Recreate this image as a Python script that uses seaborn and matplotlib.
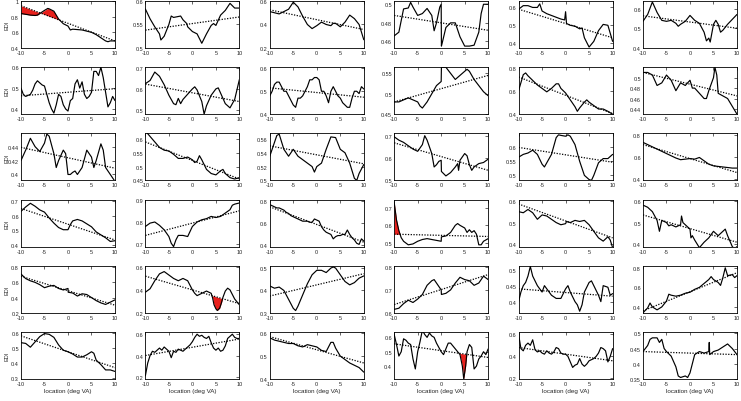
import numpy as np
import matplotlib
matplotlib.use("Agg")
import matplotlib.pyplot as plt
import seaborn as sns

# sample positions used by the noisier traces
half = np.arange(-10, 10.5, 0.5)

# ---- row 1 ----
p11_x = [-10, -9, -8, -7, -6.5, -6, -5, -4.3, -4, -3, -2, -1, 0, 0.5, 1, 2, 3, 4, 5, 6, 7, 8, 8.5, 9, 10]
p11_y = [0.84, 0.83, 0.82, 0.815, 0.82, 0.84, 0.88, 0.905, 0.90, 0.87, 0.77, 0.71, 0.68, 0.63, 0.64, 0.635, 0.63, 0.615, 0.60, 0.57, 0.53, 0.49, 0.48, 0.49, 0.49]
p12_x = [-10, -9, -8, -7, -6.7, -6, -5, -4.5, -4, -3, -2.5, -2, -1.2, -1, 0, 1, 2, 3, 4, 4.5, 5, 6, 7, 8, 9, 10]
p12_y = [0.583, 0.562, 0.545, 0.53, 0.517, 0.525, 0.55, 0.568, 0.565, 0.567, 0.568, 0.56, 0.552, 0.545, 0.535, 0.53, 0.510, 0.53, 0.548, 0.552, 0.548, 0.57, 0.58, 0.595, 0.585, 0.585]
p13_x = [-10, -9, -8, -7, -6, -5, -4, -3, -2, -1, 0, 1, 2, 3, 3.5, 4, 5, 5.5, 6, 7, 8, 9, 10]
p13_y = [0.51, 0.50, 0.49, 0.51, 0.53, 0.59, 0.55, 0.47, 0.40, 0.365, 0.39, 0.42, 0.40, 0.39, 0.41, 0.41, 0.38, 0.40, 0.42, 0.48, 0.45, 0.40, 0.27]
p14_x = [-10, -9, -8, -7, -6.5, -6, -5, -4, -3, -2, -1.5, -1, -0.3, 0, 0.05, 0.2, 1, 2, 3, 4, 5, 6, 7, 8, 8.5, 9, 10]
p14_y = [0.466, 0.47, 0.495, 0.496, 0.502, 0.497, 0.488, 0.49, 0.4955, 0.488, 0.4715, 0.48, 0.497, 0.5, 0.455, 0.458, 0.475, 0.48, 0.48, 0.465, 0.455, 0.455, 0.456, 0.47, 0.49, 0.50, 0.50]
p15_x = [-10, -9, -8, -7, -6, -5.5, -5, -4, -3, -2, -1, -0.2, 0, 0.2, 1, 2, 3, 3.5, 4, 5, 6, 7, 8, 9, 10]
p15_y = [0.59, 0.61, 0.61, 0.60, 0.60, 0.62, 0.58, 0.565, 0.555, 0.545, 0.535, 0.53, 0.576, 0.51, 0.50, 0.495, 0.48, 0.485, 0.43, 0.378, 0.41, 0.47, 0.505, 0.50, 0.41]
p16_x = [-10, -9, -8, -7, -6, -5, -4, -3, -2.5, -2, -1, 0, 1, 2, 3, 3.5, 4, 4.3, 5, 5.5, 6, 6.5, 7, 8, 9, 10]
p16_y = [0.535, 0.57, 0.633, 0.58, 0.54, 0.535, 0.54, 0.525, 0.51, 0.52, 0.535, 0.565, 0.54, 0.525, 0.48, 0.436, 0.45, 0.43, 0.52, 0.54, 0.52, 0.48, 0.49, 0.52, 0.545, 0.57]

# ---- row 2 ----
p21_x = half
p21_y = [0.50, 0.47, 0.46, 0.465, 0.47, 0.49, 0.52, 0.535, 0.525, 0.515,
         0.51, 0.47, 0.43, 0.40, 0.38, 0.42, 0.47, 0.46, 0.42, 0.40,
         0.39, 0.44, 0.45, 0.52, 0.54, 0.50, 0.53, 0.47, 0.45, 0.46,
         0.48, 0.58, 0.58, 0.56, 0.60, 0.55, 0.48, 0.41, 0.43, 0.46, 0.44]
p22_x = [-10, -9, -8, -7, -6, -5, -4, -3.5, -3, -2.5, -2, -1, 0, 0.5, 1, 2, 2.5, 3, 4, 5, 5.5, 6, 7, 8, 9, 10]
p22_y = [0.625, 0.64, 0.68, 0.66, 0.62, 0.57, 0.53, 0.525, 0.555, 0.53, 0.55, 0.575, 0.60, 0.61, 0.595, 0.54, 0.48, 0.52, 0.57, 0.60, 0.605, 0.58, 0.53, 0.51, 0.55, 0.645]
p23_x = half
p23_y = [0.48, 0.50, 0.53, 0.54, 0.54, 0.52, 0.50, 0.50, 0.48, 0.46,
         0.44, 0.43, 0.47, 0.47, 0.48, 0.50, 0.52, 0.55, 0.55, 0.56,
         0.56, 0.55, 0.50, 0.50, 0.48, 0.45, 0.50, 0.52, 0.50, 0.48,
         0.47, 0.45, 0.44, 0.43, 0.43, 0.47, 0.50, 0.50, 0.49, 0.52, 0.51]
p24_x = [-10, -9, -8, -7, -6, -5, -4.5, -4, -3, -2, -1, 0, 0.05, 1, 2, 3, 4, 5, 5.5, 6, 7, 8, 9, 10]
p24_y = [0.48, 0.48, 0.485, 0.49, 0.485, 0.48, 0.47, 0.465, 0.48, 0.50, 0.52, 0.53, 0.565, 0.565, 0.55, 0.535, 0.545, 0.555, 0.56, 0.555, 0.535, 0.52, 0.505, 0.495]
p25_x = [-10, -9.5, -9, -8.5, -8, -7, -6, -5, -4, -3, -2, -1.5, -1, 0, 1, 2, 2.5, 3, 4, 4.5, 5, 6, 7, 8, 9, 10]
p25_y = [0.60, 0.67, 0.74, 0.755, 0.73, 0.69, 0.65, 0.62, 0.59, 0.62, 0.66, 0.66, 0.62, 0.58, 0.52, 0.46, 0.42, 0.45, 0.50, 0.52, 0.50, 0.47, 0.44, 0.44, 0.42, 0.395]
p26_x = [-10, -9, -8, -7, -6, -5, -4, -3, -2, -1, 0, 0.5, 1, 2, 3, 3.5, 4, 5, 5.3, 5.7, 6, 7, 8, 9, 10]
p26_y = [0.51, 0.51, 0.505, 0.485, 0.49, 0.505, 0.495, 0.475, 0.49, 0.485, 0.495, 0.48, 0.48, 0.47, 0.46, 0.46, 0.475, 0.50, 0.52, 0.505, 0.47, 0.465, 0.46, 0.445, 0.43]

# ---- row 3 ----
p31_x = [-10, -9, -8, -7, -6, -5, -4.5, -4, -3, -2.5, -2, -1, -0.5, 0, 0.5, 1, 1.5, 2, 3, 4, 5, 5.5, 6, 7, 7.5, 8, 9, 10]
p31_y = [0.42, 0.435, 0.452, 0.44, 0.433, 0.445, 0.458, 0.455, 0.43, 0.41, 0.42, 0.435, 0.43, 0.40, 0.40, 0.403, 0.405, 0.40, 0.41, 0.435, 0.425, 0.41, 0.42, 0.444, 0.435, 0.41, 0.40, 0.39]
p32_x = [-10, -9, -8, -7, -6, -5, -4, -3, -2, -1, 0, 0.5, 1, 1.5, 2, 3, 4, 5, 6, 6.5, 7, 8, 9, 10]
p32_y = [0.63, 0.61, 0.59, 0.57, 0.56, 0.557, 0.545, 0.53, 0.53, 0.535, 0.525, 0.515, 0.52, 0.54, 0.525, 0.49, 0.475, 0.47, 0.485, 0.49, 0.475, 0.46, 0.455, 0.46]
p33_x = [-10, -9, -8.5, -8, -7, -6, -5, -4, -3, -2, -1, -0.5, 0, 1, 2, 3, 4, 5, 6, 7, 8, 8.5, 9, 10]
p33_y = [0.535, 0.555, 0.565, 0.567, 0.545, 0.535, 0.545, 0.535, 0.53, 0.525, 0.52, 0.512, 0.52, 0.525, 0.545, 0.563, 0.562, 0.545, 0.54, 0.525, 0.503, 0.50, 0.51, 0.523]
p34_x = [-10, -9, -8, -7, -6, -5, -4, -3.5, -3, -2, -1.5, -1, -0.5, 0, 0.05, 1, 2, 3, 3.5, 3.7, 4, 5, 5.5, 6, 6.5, 7, 8, 9, 10]
p34_y = [0.695, 0.68, 0.67, 0.655, 0.64, 0.63, 0.66, 0.70, 0.68, 0.62, 0.56, 0.57, 0.585, 0.59, 0.54, 0.52, 0.535, 0.56, 0.575, 0.545, 0.59, 0.62, 0.61, 0.57, 0.545, 0.56, 0.575, 0.58, 0.595]
p35_x = [-10, -9, -8, -7, -6, -5, -4.5, -4, -3, -2, -1.5, -1, 0, 0.5, 1, 2, 3, 4, 5, 5.5, 6, 7, 8, 9, 10]
p35_y = [0.565, 0.575, 0.58, 0.59, 0.575, 0.54, 0.53, 0.545, 0.575, 0.635, 0.645, 0.643, 0.64, 0.645, 0.64, 0.61, 0.55, 0.50, 0.485, 0.482, 0.50, 0.545, 0.56, 0.56, 0.575]
p36_x = [-10, -9, -8, -7, -6, -5, -4, -3, -2, -1, 0, 1, 2, 3, 4, 5, 6, 7, 8, 9, 10]
p36_y = [0.73, 0.71, 0.69, 0.67, 0.65, 0.63, 0.61, 0.59, 0.575, 0.58, 0.585, 0.58, 0.595, 0.565, 0.535, 0.52, 0.515, 0.51, 0.505, 0.50, 0.50]

# ---- row 4 ----
p41_x = [-10, -9, -8, -7, -6, -5, -4, -3, -2, -1, 0, 0.5, 1, 2, 3, 4, 5, 6, 7, 8, 9, 10]
p41_y = [0.63, 0.66, 0.685, 0.665, 0.64, 0.625, 0.585, 0.55, 0.52, 0.505, 0.505, 0.54, 0.565, 0.575, 0.565, 0.545, 0.525, 0.49, 0.47, 0.45, 0.425, 0.43]
p42_x = [-10, -9, -8, -7, -6, -5, -4.5, -4, -3.5, -3, -2, -1, 0, 1, 2, 3, 4, 5, 6, 7, 8, 8.5, 9, 10]
p42_y = [0.78, 0.795, 0.80, 0.785, 0.765, 0.735, 0.705, 0.69, 0.72, 0.74, 0.74, 0.735, 0.78, 0.80, 0.81, 0.815, 0.825, 0.82, 0.825, 0.84, 0.855, 0.875, 0.88, 0.885]
p43_x = half
p43_y = [0.77, 0.76, 0.75, 0.74, 0.74, 0.73, 0.72, 0.70, 0.69, 0.67,
         0.66, 0.65, 0.64, 0.63, 0.62, 0.62, 0.62, 0.61, 0.61, 0.64,
         0.63, 0.62, 0.57, 0.54, 0.52, 0.51, 0.50, 0.46, 0.48, 0.49,
         0.49, 0.50, 0.50, 0.54, 0.50, 0.47, 0.45, 0.42, 0.41, 0.46, 0.44]
p44_x = [-10, -9.5, -9, -8.5, -8, -7, -6, -5, -4, -3, -2, -1, 0, 0.05, 1, 2, 3, 3.5, 4, 5, 5.5, 6, 6.5, 7, 7.5, 8, 8.5, 9, 10]
p44_y = [0.73, 0.63, 0.57, 0.53, 0.51, 0.49, 0.495, 0.51, 0.52, 0.525, 0.52, 0.515, 0.51, 0.535, 0.54, 0.56, 0.60, 0.61, 0.60, 0.585, 0.56, 0.575, 0.56, 0.57, 0.55, 0.49, 0.49, 0.51, 0.525]
p45_x = [-10, -9, -8, -7, -6, -5, -4, -3, -2, -1, 0, 0.2, 1, 2, 3, 4, 5, 6, 7, 8, 9, 9.5, 10]
p45_y = [0.55, 0.545, 0.56, 0.545, 0.515, 0.535, 0.53, 0.515, 0.50, 0.49, 0.495, 0.505, 0.50, 0.51, 0.505, 0.51, 0.49, 0.46, 0.43, 0.415, 0.435, 0.42, 0.385]
p46_x = [-10, -9, -8, -7, -6.5, -6, -5, -4.5, -4, -3, -2, -1.8, -1.5, -1, 0, 0.2, 0.5, 1, 2, 3, 4, 5, 6, 7, 7.5, 8, 9, 9.5, 10]
p46_y = [0.58, 0.57, 0.55, 0.51, 0.46, 0.51, 0.50, 0.485, 0.49, 0.48, 0.49, 0.53, 0.50, 0.49, 0.47, 0.43, 0.44, 0.42, 0.385, 0.41, 0.43, 0.46, 0.44, 0.46, 0.47, 0.44, 0.39, 0.38, 0.39]

# ---- row 5 ----
p51_x = [-10, -9, -8, -7, -6, -5, -4, -3, -2, -1, 0, 0.05, 1, 2, 3, 4, 5, 6, 7, 8, 9, 10]
p51_y = [0.71, 0.65, 0.62, 0.60, 0.57, 0.53, 0.55, 0.56, 0.52, 0.50, 0.52, 0.47, 0.46, 0.42, 0.45, 0.44, 0.40, 0.36, 0.33, 0.31, 0.34, 0.37]
p52_x = [-10, -9, -8, -7, -6, -5, -4, -3, -2, -1, -0.5, 0, 0.5, 1, 2, 3, 4, 4.3, 4.6, 5, 5.3, 5.8, 6.2, 6.5, 7, 7.5, 8, 9, 10]
p52_y = [0.38, 0.41, 0.48, 0.54, 0.56, 0.53, 0.50, 0.48, 0.50, 0.48, 0.44, 0.40, 0.37, 0.35, 0.37, 0.39, 0.37, 0.33, 0.27, 0.235, 0.22, 0.24, 0.29, 0.335, 0.39, 0.415, 0.40, 0.32, 0.27]
p53_x = [-10, -9, -8, -7, -6, -5, -4.5, -4, -3, -2, -1, 0, 1, 2, 3, 3.5, 4, 5, 6, 7, 8, 9, 10]
p53_y = [0.42, 0.41, 0.415, 0.40, 0.36, 0.32, 0.31, 0.33, 0.38, 0.43, 0.47, 0.49, 0.49, 0.48, 0.50, 0.505, 0.50, 0.47, 0.44, 0.425, 0.435, 0.455, 0.465]
p54_x = [-10, -9, -8, -7, -6, -5, -4, -3, -2, -1.5, -1, 0, 0.05, 1, 2, 3, 4, 5, 6, 7, 8, 9, 10]
p54_y = [0.615, 0.62, 0.64, 0.655, 0.645, 0.66, 0.68, 0.72, 0.74, 0.745, 0.73, 0.70, 0.68, 0.685, 0.70, 0.73, 0.755, 0.745, 0.74, 0.72, 0.73, 0.76, 0.745]
p55_x = [-10, -9.5, -9, -8.5, -8, -7.5, -7, -6, -5, -4.5, -4, -3, -2, -1, 0, 0.5, 1, 2, 2.5, 3, 3.5, 4, 5, 5.5, 6, 7, 7.5, 8, 9, 9.5, 10]
p55_y = [0.40, 0.43, 0.45, 0.46, 0.48, 0.51, 0.48, 0.45, 0.43, 0.45, 0.44, 0.42, 0.41, 0.41, 0.44, 0.45, 0.43, 0.40, 0.39, 0.37, 0.39, 0.43, 0.46, 0.465, 0.45, 0.42, 0.40, 0.45, 0.445, 0.42, 0.425]
p56_x = [-10, -9, -8.5, -8, -7, -6, -5, -4.5, -4, -3, -2, -1, 0, 1, 2, 3, 4, 4.5, 5, 6, 6.5, 7, 7.5, 8, 9, 9.5, 10]
p56_y = [0.34, 0.39, 0.44, 0.40, 0.37, 0.40, 0.46, 0.53, 0.52, 0.51, 0.52, 0.54, 0.55, 0.58, 0.60, 0.64, 0.68, 0.71, 0.68, 0.65, 0.62, 0.70, 0.80, 0.72, 0.73, 0.70, 0.72]

# ---- row 6 ----
p61_x = [-10, -9, -8, -7, -6, -5, -4, -3, -2, -1, 0, 1, 2, 3, 4, 5, 5.5, 6, 7, 8, 9, 10]
p61_y = [0.535, 0.53, 0.505, 0.54, 0.575, 0.595, 0.59, 0.57, 0.52, 0.485, 0.475, 0.46, 0.44, 0.44, 0.455, 0.475, 0.465, 0.42, 0.39, 0.355, 0.355, 0.345]
p62_x = half
p62_y = [0.21, 0.33, 0.40, 0.44, 0.43, 0.45, 0.47, 0.45, 0.48, 0.46,
         0.44, 0.38, 0.44, 0.43, 0.46, 0.45, 0.44, 0.46, 0.48, 0.50,
         0.53, 0.57, 0.60, 0.58, 0.59, 0.57, 0.56, 0.58, 0.52, 0.47,
         0.45, 0.47, 0.44, 0.45, 0.49, 0.56, 0.58, 0.60, 0.57, 0.56, 0.56]
p63_x = [-10, -9, -8, -7, -6, -5, -4, -3, -2, -1, 0, 1, 2, 3, 3.5, 4, 5, 6, 7, 8, 9, 10]
p63_y = [0.58, 0.57, 0.565, 0.56, 0.555, 0.555, 0.545, 0.54, 0.55, 0.545, 0.54, 0.525, 0.52, 0.56, 0.56, 0.535, 0.50, 0.485, 0.47, 0.46, 0.45, 0.43]
p64_x = [-10, -9.5, -9, -8.5, -8, -7.5, -7, -6.5, -6, -5.5, -5, -4.5, -4, -3.5, -3, -2.5, -2, -1.5, -1, -0.5,
         0, 0.5, 1, 1.5, 2, 2.5, 3, 3.5, 4, 4.5, 4.8, 5.2, 5.5, 6, 6.5, 7, 7.5, 8, 8.5, 9, 9.5, 10]
p64_y = [0.62, 0.55, 0.47, 0.50, 0.59, 0.58, 0.56, 0.55, 0.45, 0.38, 0.50, 0.57, 0.65, 0.62, 0.60, 0.63, 0.61, 0.60, 0.56, 0.53,
         0.50, 0.48, 0.52, 0.56, 0.56, 0.54, 0.52, 0.50, 0.48, 0.40, 0.31, 0.40, 0.50, 0.55, 0.53, 0.38, 0.40, 0.45, 0.47, 0.50, 0.48, 0.52]
p65_x = half
p65_y = [0.60, 0.47, 0.45, 0.50, 0.52, 0.50, 0.55, 0.46, 0.44, 0.45,
         0.43, 0.42, 0.45, 0.43, 0.42, 0.44, 0.48, 0.47, 0.43, 0.42,
         0.42, 0.40, 0.35, 0.30, 0.32, 0.33, 0.38, 0.33, 0.31, 0.33,
         0.36, 0.37, 0.38, 0.40, 0.43, 0.48, 0.47, 0.45, 0.35, 0.40, 0.47]
p66_x = [-10, -9, -8.5, -8, -7, -6.5, -6, -5.5, -5, -4, -3, -2.5, -2, -1, -0.5, 0, 0.5, 1, 2, 3, 4, 4.1, 4.2, 5, 6, 7, 8, 9, 10]
p66_y = [0.44, 0.46, 0.48, 0.485, 0.485, 0.47, 0.48, 0.45, 0.44, 0.425, 0.39, 0.36, 0.355, 0.36, 0.355, 0.37, 0.40, 0.43, 0.44, 0.435, 0.44, 0.47, 0.43, 0.44, 0.445, 0.455, 0.465, 0.45, 0.43]

curves_x = [p11_x, p12_x, p13_x, p14_x, p15_x, p16_x,
            p21_x, p22_x, p23_x, p24_x, p25_x, p26_x,
            p31_x, p32_x, p33_x, p34_x, p35_x, p36_x,
            p41_x, p42_x, p43_x, p44_x, p45_x, p46_x,
            p51_x, p52_x, p53_x, p54_x, p55_x, p56_x,
            p61_x, p62_x, p63_x, p64_x, p65_x, p66_x]
curves_y = [p11_y, p12_y, p13_y, p14_y, p15_y, p16_y,
            p21_y, p22_y, p23_y, p24_y, p25_y, p26_y,
            p31_y, p32_y, p33_y, p34_y, p35_y, p36_y,
            p41_y, p42_y, p43_y, p44_y, p45_y, p46_y,
            p51_y, p52_y, p53_y, p54_y, p55_y, p56_y,
            p61_y, p62_y, p63_y, p64_y, p65_y, p66_y]

# linear trend, value at -10 and at +10
trend_left = [0.94, 0.538, 0.525, 0.488, 0.59, 0.563,
              0.463, 0.623, 0.515, 0.48, 0.72, 0.51,
              0.439, 0.59, 0.55, 0.668, 0.60, 0.71,
              0.65, 0.74, 0.75, 0.55, 0.585, 0.535,
              0.68, 0.52, 0.375, 0.636, 0.44, 0.36,
              0.58, 0.40, 0.585, 0.555, 0.48, 0.44]
trend_right = [0.49, 0.566, 0.357, 0.472, 0.43, 0.50,
               0.497, 0.54, 0.474, 0.545, 0.40, 0.465,
               0.409, 0.455, 0.524, 0.545, 0.547, 0.46,
               0.435, 0.85, 0.43, 0.537, 0.43, 0.41,
               0.30, 0.28, 0.475, 0.767, 0.417, 0.75,
               0.37, 0.555, 0.47, 0.46, 0.36, 0.43]

y_limits = [(0.4, 1.0), (0.5, 0.6), (0.2, 0.6), (0.453, 0.5035), (0.373, 0.636), (0.4, 0.638),
            (0.375, 0.6), (0.48, 0.703), (0.4, 0.605), (0.453, 0.565), (0.395, 0.805), (0.43, 0.52),
            (0.3915, 0.459), (0.45, 0.621), (0.5, 0.568), (0.5, 0.71), (0.482, 0.65), (0.39, 0.81),
            (0.39, 0.71), (0.69, 0.9), (0.39, 0.815), (0.48, 0.745), (0.39, 0.605), (0.39, 0.605),
            (0.2, 0.817), (0.2, 0.61), (0.3, 0.51), (0.6, 0.805), (0.365, 0.512), (0.34, 0.82),
            (0.295, 0.605), (0.18, 0.62), (0.4, 0.605), (0.31, 0.637), (0.195, 0.62), (0.35, 0.504)]
y_ticks = [[0.4, 0.6, 0.8, 1], [0.5, 0.55, 0.6], [0.2, 0.4, 0.6], [0.46, 0.48, 0.5], [0.4, 0.5, 0.6], [0.4, 0.5, 0.6],
           [0.4, 0.5, 0.6], [0.5, 0.6, 0.7], [0.4, 0.5, 0.6], [0.45, 0.5, 0.55], [0.4, 0.6, 0.8], [0.44, 0.46, 0.48, 0.5],
           [0.4, 0.42, 0.44], [0.45, 0.5, 0.55, 0.6], [0.5, 0.52, 0.54, 0.56], [0.5, 0.6, 0.7], [0.5, 0.55, 0.6], [0.4, 0.6, 0.8],
           [0.4, 0.5, 0.6, 0.7], [0.7, 0.8, 0.9], [0.4, 0.6, 0.8], [0.5, 0.6, 0.7], [0.4, 0.5, 0.6], [0.4, 0.5, 0.6],
           [0.2, 0.4, 0.6, 0.8], [0.2, 0.4, 0.6], [0.3, 0.4, 0.5], [0.6, 0.7, 0.8], [0.4, 0.45, 0.5], [0.4, 0.6, 0.8],
           [0.3, 0.4, 0.5, 0.6], [0.2, 0.4, 0.6], [0.4, 0.5, 0.6], [0.4, 0.5, 0.6], [0.2, 0.4, 0.6], [0.35, 0.4, 0.45, 0.5]]

# shaded stretches (panel index, x from, x to)
red_spans = [(0, -10, -2), (21, -10, -9), (25, 4.0, 6.8), (33, 4.0, 5.6)]
x_ticks = [-10, -5, 0, 5, 10]

sns.set_theme(style="white")
plt.rcParams["font.family"] = ["Liberation Sans", "DejaVu Sans"]

fig, axes = plt.subplots(6, 6, figsize=(7.41, 4.02), dpi=100)
fig.subplots_adjust(left=0.0283, right=0.9946, top=0.995, bottom=0.0547, wspace=0.323, hspace=0.41)

for i, ax in enumerate(axes.flat):
    xs = np.asarray(curves_x[i], dtype=float)
    ys = np.asarray(curves_y[i], dtype=float)
    sns.lineplot(x=xs, y=ys, ax=ax, color="black", linewidth=0.85, estimator=None, sort=False)
    sns.lineplot(x=[-10, 10], y=[trend_left[i], trend_right[i]], ax=ax, color="black",
                 linewidth=0.9, linestyle=(0, (1, 1.2)), estimator=None)
    ax.set_xlim(-10, 10)
    ax.set_ylim(*y_limits[i])
    ax.set_xticks(x_ticks)
    ax.set_xticklabels([str(t) for t in x_ticks])
    ax.set_yticks(y_ticks[i])
    ax.set_yticklabels([f"{t:g}" for t in y_ticks[i]])
    ax.tick_params(direction="in", length=2, width=0.5, labelsize=4, pad=1.5,
                   top=True, right=True, colors="#262626")
    for s in ax.spines.values():
        s.set_linewidth(0.6)
        s.set_color("black")
    if i % 6 == 0:
        ax.set_ylabel("EDI", fontsize=4)
        ax.yaxis.set_label_coords(-0.125, 0.5)
    if i >= 30:
        ax.set_xlabel("location (deg VA)", fontsize=4.5, labelpad=1.5)

for idx, lo, hi in red_spans:
    ax = axes.flat[idx]
    xs = np.asarray(curves_x[idx], dtype=float)
    ys = np.asarray(curves_y[idx], dtype=float)
    tr = trend_left[idx] + (trend_right[idx] - trend_left[idx]) * (xs + 10) / 20
    sel = (xs >= lo) & (xs <= hi)
    if idx in (25, 33):
        sel = sel & (ys <= tr)
    ax.fill_between(xs, ys, tr, where=sel, interpolate=True, color="#e8201c", linewidth=0, zorder=1.5)

fig.savefig("out.png", dpi=100)
